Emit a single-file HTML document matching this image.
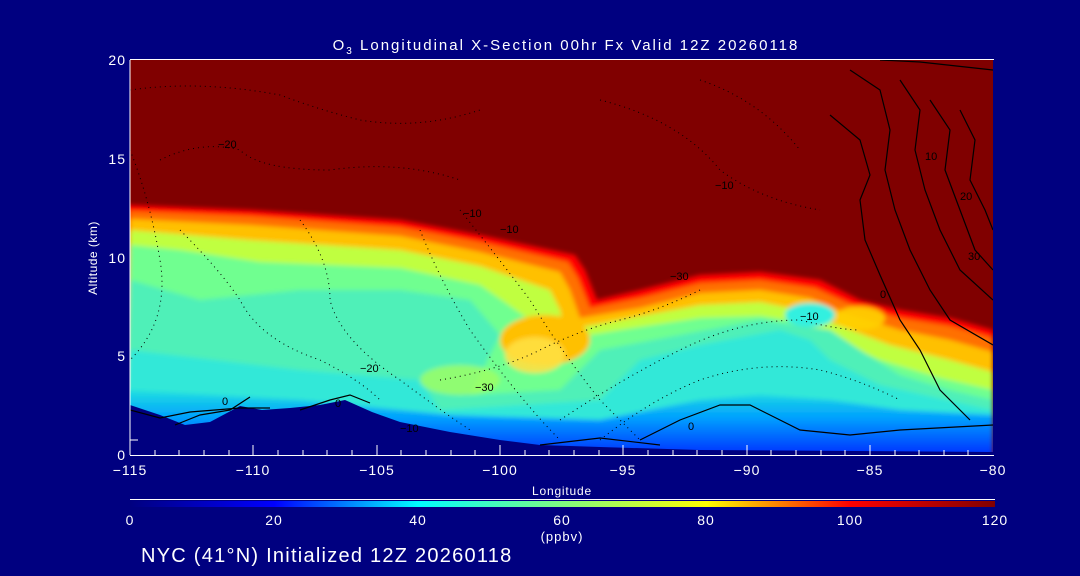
<!DOCTYPE html>
<html><head><meta charset="utf-8"><style>
html,body{margin:0;padding:0;background:#000080;}
svg{display:block}
text{font-family:"Liberation Sans",sans-serif;fill:#fff}
</style></head><body>
<svg width="1080" height="576" viewBox="0 0 1080 576" xmlns="http://www.w3.org/2000/svg">
<defs>
<linearGradient id="cb" x1="0" x2="1" y1="0" y2="0">
<stop offset="0" stop-color="#000080"/>
<stop offset="0.167" stop-color="#0000ff"/>
<stop offset="0.333" stop-color="#00ffff"/>
<stop offset="0.5" stop-color="#80ff80"/>
<stop offset="0.667" stop-color="#ffff00"/>
<stop offset="0.833" stop-color="#ff0000"/>
<stop offset="1" stop-color="#800000"/>
</linearGradient>
<linearGradient id="bl" x1="0" x2="0" y1="0" y2="1">
<stop offset="0" stop-color="#20e0e0"/>
<stop offset="0.4" stop-color="#00a0ff"/>
<stop offset="1" stop-color="#0020ff"/>
</linearGradient>
<clipPath id="pc"><rect x="130" y="60" width="863" height="395"/></clipPath>
<filter id="bf" x="-5%" y="-5%" width="110%" height="110%"><feGaussianBlur stdDeviation="2.5"/></filter>
</defs>
<rect width="1080" height="576" fill="#000080"/>
<g clip-path="url(#pc)">
<rect x="130" y="60" width="863" height="395" fill="#800000"/>
<g filter="url(#bf)">
<path d="M130,205 L250,210 L400,220 L480,235 L575,255 L585,270 L597,300 L640,290 L700,275 L760,272 L820,280 L860,300 L900,310 L950,318 L993,330 L993,460 L125,460 L125,205Z" fill="#ff0000"/>
<path d="M130,211 L250,216 L400,227 L480,242 L568,262 L578,278 L590,308 L640,298 L700,283 L760,280 L815,288 L855,306 L900,318 L950,326 L993,338 L993,460 L125,460Z" fill="#ff7000"/>
<path d="M130,219 L250,225 L400,236 L480,252 L560,272 L570,290 L580,318 L640,308 L700,293 L760,290 L810,298 L848,314 L900,330 L950,340 L993,352 L993,460 L125,460Z" fill="#ffc000"/>
<path d="M130,230 L250,240 L400,250 L480,266 L550,290 L560,310 L565,330 L620,320 L700,305 L760,302 L800,310 L840,326 L890,345 L950,360 L993,372 L993,460 L125,460Z" fill="#c0ff40"/>
<path d="M130,245 L180,250 L260,262 L400,268 L480,285 L530,320 L520,345 L560,340 L620,330 L700,318 L760,316 L800,322 L835,340 L880,360 L940,378 L993,390 L993,460 L125,460Z" fill="#70ff90"/>
<path d="M130,280 L200,300 L300,290 L400,290 L470,300 L500,335 L470,395 L560,390 L600,350 L680,335 L760,320 L830,330 L860,350 L900,375 L950,390 L993,400 L993,460 L125,460Z" fill="#50f0b8"/>
<path d="M130,350 L300,370 L420,380 L440,410 L600,400 L640,360 L700,345 L780,330 L810,340 L830,360 L880,385 L993,410 L993,460 L125,460Z" fill="#30e8d8"/>
<path d="M125,390 L300,400 L450,415 L600,420 L700,400 L760,395 L830,400 L900,410 L993,415 L993,460 L125,460Z" fill="url(#bl)"/>
<ellipse cx="545" cy="340" rx="45" ry="25" fill="#ffc000"/>
<ellipse cx="535" cy="355" rx="30" ry="18" fill="#ffe040" opacity="0.9"/>
<ellipse cx="460" cy="380" rx="40" ry="15" fill="#a0ff60" opacity="0.8"/>
<ellipse cx="860" cy="318" rx="25" ry="12" fill="#ffd000" opacity="0.9"/>
<ellipse cx="810" cy="315" rx="25" ry="12" fill="#30f0e0"/>
</g>
<path d="M130,405 L160,415 L185,425 L210,422 L240,406 L262,410 L290,408 L320,405 L345,400 L372,412 L400,422 L450,432 L500,440 L540,445 L600,447 L700,450 L993,452 L993,455 L130,455Z" fill="#000080"/>
<g fill="none" stroke="#000" stroke-width="1" stroke-dasharray="1,4">
<path d="M130,90 Q200,80 280,95 Q320,110 360,120 Q420,130 480,110"/>
<path d="M160,160 Q200,140 240,150 Q260,170 330,170 Q400,160 460,180"/>
<path d="M180,230 Q220,270 240,300 Q260,340 320,360 Q360,380 380,400"/>
<path d="M300,220 Q330,260 330,300 Q340,340 400,380 Q440,410 470,430"/>
<path d="M420,230 Q440,280 470,330 Q520,400 560,440"/>
<path d="M460,210 Q500,260 530,300 Q560,350 600,400 Q620,420 640,440"/>
<path d="M440,380 Q500,370 540,350 Q580,330 620,320 Q660,310 700,290"/>
<path d="M560,420 Q620,380 680,350 Q740,320 800,320 Q840,330 860,330"/>
<path d="M600,440 Q650,400 700,380 Q760,360 820,370 Q860,380 900,400"/>
<path d="M600,100 Q680,120 720,170 Q760,200 820,210"/>
<path d="M700,80 Q760,100 800,150"/>
<path d="M130,150 Q150,200 160,260 Q170,320 130,360"/>
</g>
<g fill="none" stroke="#000" stroke-width="1.2">
<path d="M830,115 L860,140 L870,175 L860,200 L865,240 L880,275 L900,320 L920,350 L940,390 L970,420"/>
<path d="M850,70 L880,90 L890,130 L885,170 L895,210 L910,250 L930,290 L950,320 L993,345"/>
<path d="M900,80 L920,110 L915,150 L925,190 L940,230 L960,270 L993,300"/>
<path d="M930,100 L950,130 L945,170 L960,210 L975,250 L993,270"/>
<path d="M960,110 L975,140 L970,180 L985,210 L993,230"/>
<path d="M880,60 L920,62 L993,70"/>
<path d="M130,410 L160,418 L190,412 L240,408 L270,408"/>
<path d="M175,425 L200,415 L230,410 L250,397"/>
<path d="M300,410 L330,400 L350,395 L370,403"/>
<path d="M640,440 L680,420 L720,405 L750,405 L780,420 L800,430 L850,435 L900,430 L993,425"/>
<path d="M540,445 L600,438 L660,445"/>
</g>
<g font-size="11">
<text x="218" y="148" style="fill:#000">−20</text>
<text x="463" y="217" style="fill:#000">−10</text>
<text x="500" y="233" style="fill:#000">−10</text>
<text x="475" y="391" style="fill:#000">−30</text>
<text x="715" y="189" style="fill:#000">−10</text>
<text x="670" y="280" style="fill:#000">−30</text>
<text x="800" y="320" style="fill:#000">−10</text>
<text x="360" y="372" style="fill:#000">−20</text>
<text x="400" y="432" style="fill:#000">−10</text>
<text x="222" y="405" style="fill:#000">0</text>
<text x="335" y="407" style="fill:#000">0</text>
<text x="688" y="430" style="fill:#000">0</text>
<text x="880" y="298" style="fill:#000">0</text>
<text x="925" y="160" style="fill:#000">10</text>
<text x="960" y="200" style="fill:#000">20</text>
<text x="968" y="260" style="fill:#000">30</text>
</g>
</g>
<rect x="130" y="59" width="864" height="1" fill="#fff"/>
<g stroke="#fff" stroke-width="1">
<line x1="130" y1="60" x2="130" y2="455"/>
<line x1="130" y1="455.5" x2="994" y2="455.5"/>
<line x1="130" y1="440" x2="138" y2="440"/>
</g>
<g stroke="#fff" stroke-width="1">
<line x1="130" y1="455" x2="130" y2="445"/><line x1="155" y1="455" x2="155" y2="450"/><line x1="179" y1="455" x2="179" y2="450"/><line x1="204" y1="455" x2="204" y2="450"/><line x1="229" y1="455" x2="229" y2="450"/>
<line x1="253" y1="455" x2="253" y2="445"/><line x1="278" y1="455" x2="278" y2="450"/><line x1="303" y1="455" x2="303" y2="450"/><line x1="327" y1="455" x2="327" y2="450"/><line x1="352" y1="455" x2="352" y2="450"/>
<line x1="377" y1="455" x2="377" y2="445"/><line x1="401" y1="455" x2="401" y2="450"/><line x1="426" y1="455" x2="426" y2="450"/><line x1="451" y1="455" x2="451" y2="450"/><line x1="475" y1="455" x2="475" y2="450"/>
<line x1="500" y1="455" x2="500" y2="445"/><line x1="525" y1="455" x2="525" y2="450"/><line x1="549" y1="455" x2="549" y2="450"/><line x1="574" y1="455" x2="574" y2="450"/><line x1="599" y1="455" x2="599" y2="450"/>
<line x1="623" y1="455" x2="623" y2="445"/><line x1="648" y1="455" x2="648" y2="450"/><line x1="673" y1="455" x2="673" y2="450"/><line x1="697" y1="455" x2="697" y2="450"/><line x1="722" y1="455" x2="722" y2="450"/>
<line x1="747" y1="455" x2="747" y2="445"/><line x1="771" y1="455" x2="771" y2="450"/><line x1="796" y1="455" x2="796" y2="450"/><line x1="821" y1="455" x2="821" y2="450"/><line x1="845" y1="455" x2="845" y2="450"/>
<line x1="870" y1="455" x2="870" y2="445"/><line x1="895" y1="455" x2="895" y2="450"/><line x1="919" y1="455" x2="919" y2="450"/><line x1="944" y1="455" x2="944" y2="450"/><line x1="968" y1="455" x2="968" y2="450"/>
</g>
<g font-size="14" text-anchor="middle" letter-spacing="1">
<text x="130" y="475">−115</text><text x="253" y="475">−110</text><text x="377" y="475">−105</text>
<text x="500" y="475">−100</text><text x="623" y="475">−95</text><text x="747" y="475">−90</text>
<text x="870" y="475">−85</text><text x="993" y="475">−80</text>
<text x="562" y="495" font-size="12" letter-spacing="0.8">Longitude</text>
</g>
<g font-size="14" text-anchor="end" letter-spacing="1">
<text x="126" y="460">0</text><text x="126" y="361">5</text><text x="126" y="263">10</text>
<text x="126" y="164">15</text><text x="126" y="65">20</text>
</g>
<text transform="translate(97,258) rotate(-90)" font-size="12" text-anchor="middle" letter-spacing="0.5">Altitude (km)</text>
<text x="566" y="50" font-size="15" text-anchor="middle" letter-spacing="2">O<tspan font-size="10" dy="4">3</tspan><tspan dy="-4"> Longitudinal X-Section 00hr  Fx Valid 12Z 20260118</tspan></text>
<rect x="130" y="499" width="865" height="1" fill="#fff"/>
<rect x="130" y="501" width="865" height="6" fill="url(#cb)"/>
<g font-size="14" text-anchor="middle" letter-spacing="1">
<text x="130" y="525">0</text><text x="274" y="525">20</text><text x="418" y="525">40</text>
<text x="562" y="525">60</text><text x="706" y="525">80</text><text x="850" y="525">100</text><text x="995" y="525">120</text>
<text x="562" y="541" font-size="13">(ppbv)</text>
</g>
<text x="141" y="562" font-size="20" letter-spacing="1.25">NYC (41°N) Initialized 12Z 20260118</text>
</svg>
</body></html>
